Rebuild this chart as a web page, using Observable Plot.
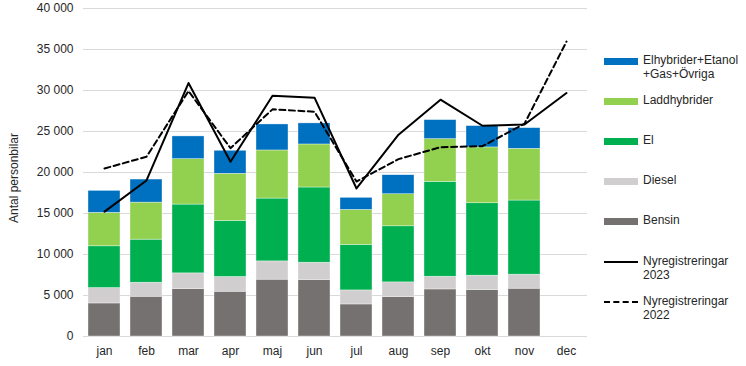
<!DOCTYPE html>
<html><head><meta charset="utf-8">
<script src="https://cdn.jsdelivr.net/npm/d3@7"></script>
<script src="https://cdn.jsdelivr.net/npm/@observablehq/plot@0.6"></script>
<style>
body{margin:0;background:#fff;font-family:"Liberation Sans",Arial,sans-serif;}
#wrap{position:relative;width:746px;height:366px;}
#ylab{position:absolute;left:14px;top:178px;transform:translate(-50%,-50%) rotate(-90deg);font-size:12px;color:#262626;white-space:nowrap;}
.leg{position:absolute;left:604px;font-size:12px;color:#262626;line-height:13.5px;}
.leg .sw{position:absolute;left:0;width:34px;}
.leg .tx{position:absolute;left:39px;white-space:nowrap;}
</style></head>
<body><div id="wrap"><div id="chart"></div><div id="ylab">Antal personbilar</div><div id="legend"></div></div>
<script>
const months = ["jan","feb","mar","apr","maj","jun","jul","aug","sep","okt","nov","dec"];
const seriesNames = ["Bensin","Diesel","El","Laddhybrider","Elhybrider+Etanol+Gas+Övriga"];
const bensin = [4030,4850,5790,5460,6930,6890,3910,4810,5740,5670,5830];
const diesel = [1880,1710,1910,1800,2230,2110,1710,1790,1550,1750,1710];
const el     = [5090,5250,8390,6840,7660,9170,5550,6840,11570,8830,9040];
const ladd   = [4080,4520,5540,5740,5870,5250,4270,3910,5210,6810,6310];
const ovriga = [2680,2810,2770,2810,3170,2570,1470,2320,2320,2600,2520];
const nyreg2023 = [15230,19030,30910,21310,29370,29130,18050,24610,28880,25700,25860,29690];
const nyreg2022 = [20490,21920,29930,22970,27700,27410,18900,21630,23090,23210,25950,35970];
const colors = ["#767171","#d0cece","#00b050","#92d050","#0070c0"];

const seriesVals = [bensin, diesel, el, ladd, ovriga];
const bars = [];
months.slice(0, 11).forEach((m, i) => {
  seriesNames.forEach((s, j) => bars.push({month: m, series: s, value: seriesVals[j][i]}));
});
const line23 = months.map((m, i) => ({month: m, value: nyreg2023[i]}));
const line22 = months.map((m, i) => ({month: m, value: nyreg2022[i]}));

const fmt = d3.formatLocale({decimal: ",", thousands: " ", grouping: [3], currency: ["", ""]}).format(",");

const chart = Plot.plot({
  width: 746, height: 366,
  marginLeft: 83, marginRight: 159, marginTop: 8, marginBottom: 30,
  style: {fontFamily: "Liberation Sans, Arial, sans-serif", fontSize: "12px", color: "#262626", background: "#fff"},
  x: {domain: months, paddingInner: 0.24, paddingOuter: 0.12, label: null, tickSize: 0, tickPadding: 10},
  y: {domain: [0, 40000], ticks: d3.range(0, 40001, 5000), tickFormat: fmt, label: null, tickSize: 0, tickPadding: 10},
  color: {domain: seriesNames, range: colors},
  marks: [
    Plot.gridY(d3.range(5000, 40001, 5000), {stroke: "#d9d9d9", strokeOpacity: 1, strokeWidth: 1}),
    Plot.ruleY([0], {stroke: "#d9d9d9", strokeWidth: 1}),
    Plot.barY(bars, {x: "month", y: "value", fill: "series", stroke: "#ffffff", strokeWidth: 0.6, strokeOpacity: 0.6}),
    Plot.line(line22, {x: "month", y: "value", stroke: "#000", strokeWidth: 2, strokeDasharray: "6,3.5"}),
    Plot.line(line23, {x: "month", y: "value", stroke: "#000", strokeWidth: 2})
  ]
});
document.getElementById("chart").appendChild(chart);

const legendItems = [
  {lines: ["Elhybrider+Etanol", "+Gas+Övriga"], type: "rect", color: colors[4], y: 61},
  {lines: ["Laddhybrider"], type: "rect", color: colors[3], y: 101},
  {lines: ["El"], type: "rect", color: colors[2], y: 141},
  {lines: ["Diesel"], type: "rect", color: colors[1], y: 181},
  {lines: ["Bensin"], type: "rect", color: colors[0], y: 221},
  {lines: ["Nyregistreringar", "2023"], type: "solid", y: 262},
  {lines: ["Nyregistreringar", "2022"], type: "dash", y: 302}
];
const lg = document.getElementById("legend");
legendItems.forEach(it => {
  const d = document.createElement("div");
  d.className = "leg";
  d.style.top = it.y + "px";
  const sw = document.createElement("div");
  sw.className = "sw";
  if (it.type === "rect") { sw.style.height = "7px"; sw.style.top = "-3px"; sw.style.background = it.color; }
  else { sw.style.height = "0"; sw.style.top = "-1px"; sw.style.borderTop = "2px " + (it.type === "dash" ? "dashed" : "solid") + " #000"; }
  d.appendChild(sw);
  const tx = document.createElement("div");
  tx.className = "tx";
  tx.style.top = "-7px";
  tx.innerHTML = it.lines.join("<br>");
  d.appendChild(tx);
  lg.appendChild(d);
});
</script></body></html>
